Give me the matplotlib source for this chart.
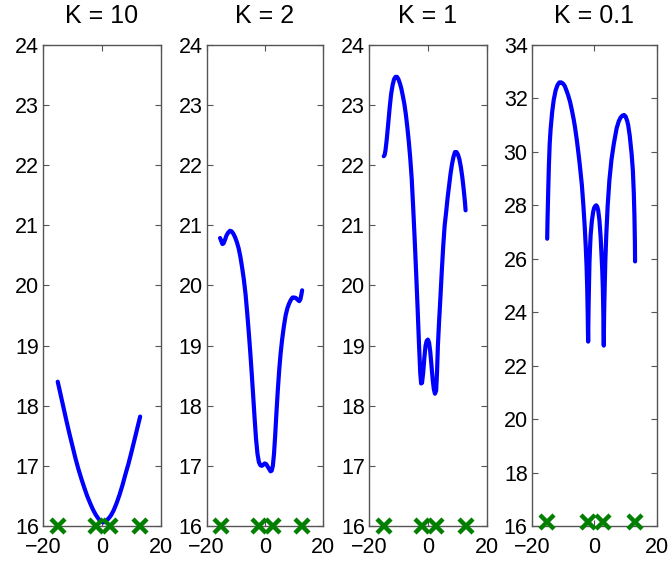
import matplotlib
matplotlib.use('Agg')
import matplotlib.pyplot as plt

plt.rcParams['font.family'] = ['Liberation Sans', 'DejaVu Sans']
plt.rcParams['axes.unicode_minus'] = True

# panel titles and y ranges
titles = ['K = 10', 'K = 2', 'K = 1', 'K = 0.1']
ylims = [(16, 24), (16, 24), (16, 24), (16, 34)]
ysteps = [1, 1, 1, 2]

# green x markers (data points)
mark_x = [-15, -2.1, 2.8, 12.9]
mark_y = [16, 16, 16, 16.15]

# curves
x1 = [-15.0, -14.0, -13.0, -12.0, -11.0, -10.0, -9.0, -8.0, -7.0, -6.0, -5.0, -4.0, -3.0, -2.0, -1.0,
      0.0, 0.5, 1.0, 2.0, 3.0, 4.0, 5.0, 6.0, 7.0, 8.0, 9.0, 10.0, 11.0, 12.0, 13.0]
y1 = [18.40, 18.18, 17.96, 17.74, 17.53, 17.33, 17.13, 16.95, 16.79, 16.64, 16.50, 16.38, 16.27, 16.18, 16.11,
      16.07, 16.06, 16.07, 16.11, 16.17, 16.26, 16.38, 16.52, 16.68, 16.86, 17.03, 17.22, 17.42, 17.62, 17.82]

x2 = [-15.4, -15.0, -14.6, -14.2, -13.7, -13.2, -12.6, -12.0, -11.4, -10.8, -10.2, -9.6, -9.0, -8.4, -7.8,
      -7.2, -6.6, -6.0, -5.5, -5.0, -4.5, -4.0, -3.5, -3.0, -2.5, -2.0, -1.5, -1.0, -0.5, 0.0, 0.5, 1.0,
      1.5, 2.0, 2.4, 2.8, 3.2, 3.6, 4.0, 4.5, 5.0, 5.5, 6.0, 6.6, 7.2, 7.8, 8.4, 9.0, 9.6, 10.2, 10.8,
      11.4, 11.9, 12.3, 12.6, 12.9]
y2 = [20.79, 20.74, 20.69, 20.70, 20.76, 20.83, 20.88, 20.91, 20.90, 20.86, 20.80, 20.72, 20.62, 20.48, 20.30,
      20.10, 19.85, 19.52, 19.22, 18.90, 18.55, 18.18, 17.80, 17.45, 17.20, 17.06, 17.01, 17.00, 17.02, 17.04, 17.03, 16.99,
      16.95, 16.91, 16.92, 17.00, 17.20, 17.50, 17.85, 18.25, 18.60, 18.88, 19.10, 19.32, 19.50, 19.62, 19.70, 19.76, 19.80, 19.80, 19.79,
      19.76, 19.74, 19.77, 19.84, 19.92]

x3 = [-15.0, -14.7, -14.4, -14.0, -13.5, -13.0, -12.5, -12.0, -11.5, -11.0, -10.5, -10.0, -9.5, -9.0, -8.5,
      -8.0, -7.5, -7.0, -6.5, -6.0, -5.5, -5.0, -4.5, -4.0, -3.5, -3.0, -2.6, -2.3, -2.0, -1.6, -1.2, -0.8,
      -0.4, 0.0, 0.4, 0.8, 1.2, 1.6, 2.0, 2.4, 2.8, 3.1, 3.4, 3.8, 4.2, 4.7, 5.2, 5.7, 6.2, 6.7, 7.2, 7.7,
      8.2, 8.7, 9.2, 9.7, 10.2, 10.7, 11.2, 11.7, 12.2, 12.6, 12.8]
y3 = [22.15, 22.17, 22.25, 22.42, 22.68, 22.95, 23.18, 23.33, 23.43, 23.47, 23.47, 23.43, 23.36, 23.27, 23.15,
      23.02, 22.85, 22.64, 22.40, 22.12, 21.78, 21.30, 20.78, 20.22, 19.63, 19.00, 18.55, 18.37, 18.38, 18.55, 18.80, 19.00,
      19.08, 19.10, 19.05, 18.90, 18.68, 18.45, 18.28, 18.20, 18.25, 18.55, 19.00, 19.40, 19.75, 20.22, 20.65, 21.00, 21.22, 21.46, 21.66, 21.86,
      22.02, 22.14, 22.22, 22.22, 22.18, 22.10, 21.97, 21.80, 21.58, 21.38, 21.25]

x4 = [-15.1, -15.0, -14.8, -14.55, -14.3, -14.0, -13.5, -13.0, -12.4, -11.8, -11.2, -10.6, -10.0, -9.5, -9.0,
      -8.4, -7.8, -7.2, -6.6, -6.2, -5.6, -5.0, -4.6, -4.0, -3.5, -3.1, -2.76, -2.5, -2.3, -2.15, -2.05, -2.0,
      -1.93, -1.85, -1.7, -1.57, -1.4, -1.2, -0.8, -0.4, -0.1, 0.3, 0.6, 0.9, 1.2, 1.6, 2.0, 2.25, 2.5, 2.7,
      2.85, 2.95, 3.0, 3.07, 3.15, 3.3, 3.5, 3.8, 4.25, 4.8, 5.45, 6.2, 7.1, 7.8, 8.4, 9.0, 9.5, 10.0, 10.5,
      10.8, 11.3, 11.9, 12.3, 12.6, 12.8, 12.95, 13.0]
y4 = [26.75, 27.4, 28.4, 29.5, 30.3, 30.85, 31.5, 31.95, 32.3, 32.5, 32.6, 32.6, 32.55, 32.47, 32.32,
      32.12, 31.88, 31.56, 31.2, 30.92, 30.42, 29.85, 29.43, 28.75, 27.95, 27.2, 26.44, 25.7, 24.9, 24.0, 23.2, 22.9,
      23.6, 24.3, 25.2, 25.9, 26.4, 26.9, 27.43, 27.75, 27.9, 27.98, 28.0, 27.95, 27.82, 27.45, 26.8, 26.2, 25.6, 24.9,
      24.0, 23.2, 22.75, 23.6, 24.2, 25.0, 25.94, 26.9, 28.0, 28.95, 29.7, 30.3, 30.88, 31.15, 31.29, 31.36, 31.38, 31.32, 31.15,
      31.0, 30.6, 29.92, 29.3, 28.45, 27.6, 26.6, 25.9]

xs = [x1, x2, x3, x4]
ys = [y1, y2, y3, y4]

# axes boxes in figure fractions (left, bottom, width, height)
lefts = [0.0643, 0.309, 0.5516, 0.795]
widths = [0.176, 0.1734, 0.176, 0.187]
bottom, height = 0.0624, 0.8574

fig = plt.figure(figsize=(6.69, 5.61), dpi=100)

for i in range(4):
    ax = fig.add_axes([lefts[i], bottom, widths[i], height])
    ax.plot(xs[i], ys[i], color='#0000ff', linewidth=3.0, solid_capstyle='round', solid_joinstyle='round')
    ax.plot(mark_x, [mark_y[i]] * 4, linestyle='none', marker='x', color='#007f00',
            markersize=10, markeredgewidth=3.2, clip_on=False, zorder=5)
    ax.set_xlim(-20, 20)
    ax.set_ylim(*ylims[i])
    ax.set_xticks([-20, 0, 20])
    lo, hi = ylims[i]
    ax.set_yticks(list(range(lo, hi + 1, ysteps[i])))
    ax.set_title(titles[i], fontsize=18, pad=16)
    ax.tick_params(direction='in', length=4, width=0.8, color='#555555',
                   top=True, right=True, labelsize=15.5)
    ax.tick_params(axis='x', pad=8)
    ax.tick_params(axis='y', pad=3)
    for s in ax.spines.values():
        s.set_color('#555555')
        s.set_linewidth(1.0)

plt.savefig('out.png', dpi=100)
